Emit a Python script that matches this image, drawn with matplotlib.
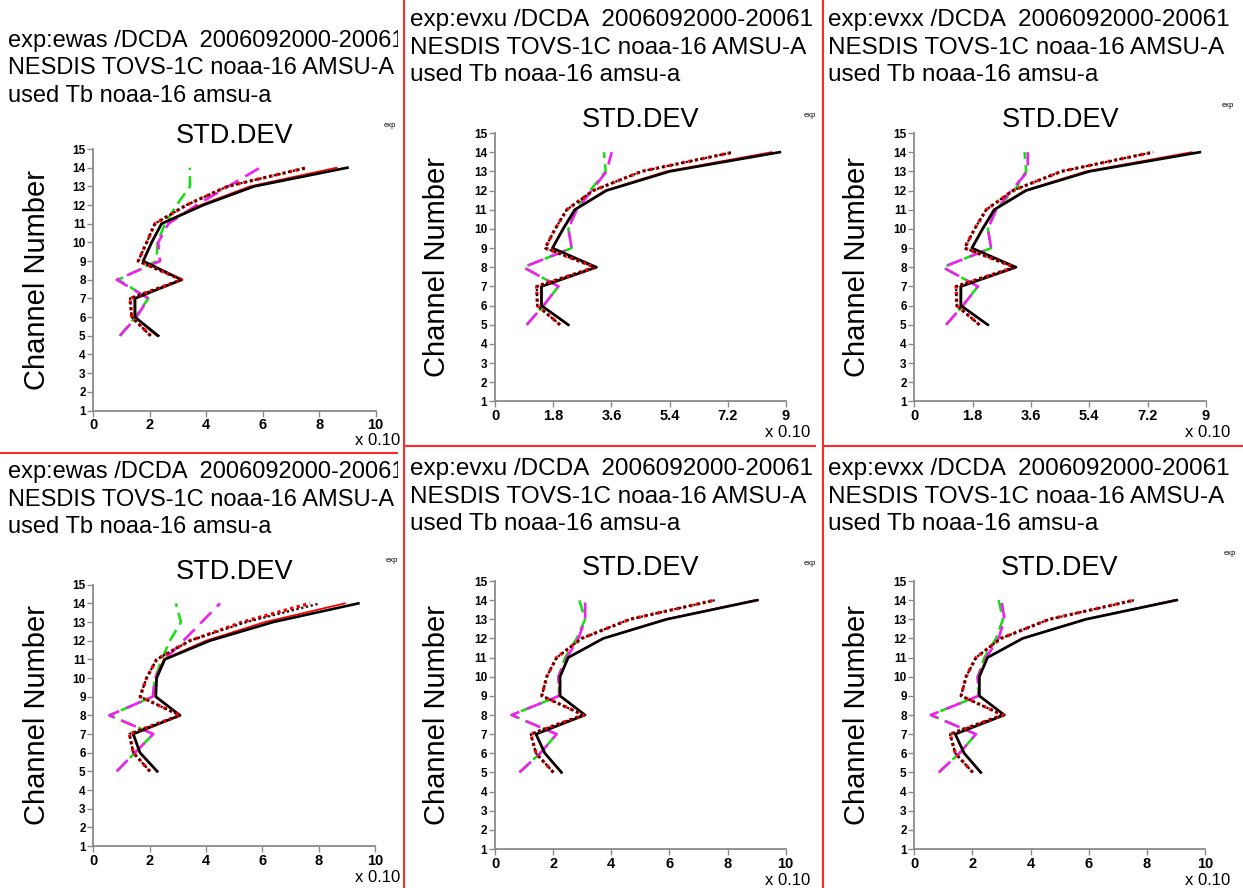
"""Six-panel STD.DEV montage: AMSU-A noaa-16 departure standard deviation
per channel for three experiments (ewas / evxu / evxx), two rows.
Each panel is drawn in pixel coordinates of the final 1243x888 image.
"""
import matplotlib

matplotlib.use("Agg")
import matplotlib.pyplot as plt

W, H, DPI = 1243, 888, 100
FONT = "Liberation Sans"
plt.rcParams["font.family"] = [FONT, "DejaVu Sans"]

channels = [5, 6, 7, 8, 9, 10, 11, 12, 13, 14]

# top row
ewas_top_black = [2.30, 1.48, 1.48, 3.13, 1.77, 2.07, 2.42, 3.90, 5.70, 9.00]
ewas_top_red = [2.25, 1.45, 1.45, 3.10, 1.75, 2.05, 2.40, 3.80, 5.55, 8.62]
ewas_top_dot = [2.03, 1.36, 1.30, 3.13, 1.59, 1.89, 2.18, 3.30, 4.75, 7.56]
ewas_top_green = [0.94, 1.48, 1.95, 0.89, 2.24, 2.27, 2.54, 2.95, 3.42, 3.42]
ewas_top_magenta = [0.94, 1.53, 1.95, 0.83, 2.36, 2.30, 2.66, 3.66, 4.78, 5.90]

evxu_top_black = [2.27, 1.44, 1.44, 3.14, 1.78, 2.11, 2.47, 3.45, 5.41, 8.81]
evxu_top_red = [2.25, 1.42, 1.42, 3.12, 1.76, 2.09, 2.45, 3.40, 5.30, 8.56]
evxu_top_dot = [2.01, 1.31, 1.29, 3.09, 1.55, 1.86, 2.22, 3.04, 4.54, 7.37]
evxu_top_green = [0.98, 1.50, 1.96, 0.88, 2.37, 2.27, 2.47, 2.94, 3.42, 3.37]
evxu_top_magenta = [0.98, 1.50, 1.96, 0.88, 2.37, 2.27, 2.53, 2.99, 3.45, 3.61]

evxx_top_black = [2.27, 1.44, 1.44, 3.14, 1.78, 2.11, 2.47, 3.45, 5.41, 8.81]
evxx_top_red = [2.25, 1.42, 1.42, 3.12, 1.76, 2.09, 2.45, 3.40, 5.30, 8.56]
evxx_top_dot = [2.01, 1.31, 1.29, 3.09, 1.55, 1.86, 2.22, 3.04, 4.54, 7.37]
evxx_top_green = [0.98, 1.50, 1.96, 0.88, 2.37, 2.27, 2.50, 3.09, 3.45, 3.40]
evxx_top_magenta = [0.98, 1.50, 1.96, 0.88, 2.37, 2.27, 2.53, 2.99, 3.50, 3.50]

# bottom row
ewas_bot_black = [2.27, 1.66, 1.42, 3.08, 2.22, 2.25, 2.54, 4.14, 6.39, 9.41]
ewas_bot_red = [2.25, 1.64, 1.40, 3.06, 2.20, 2.23, 2.50, 4.00, 6.10, 8.93]
ewas_bot_dot = [2.01, 1.42, 1.28, 3.08, 1.66, 1.89, 2.25, 3.43, 5.44, 8.05]
ewas_bot_dot_red = [2.01, 1.42, 1.28, 3.08, 1.66, 1.89, 2.25, 3.43, 5.30, 7.69]
ewas_bot_green = [0.83, 1.48, 2.13, 0.57, 2.11, 2.19, 2.43, 2.72, 3.11, 2.93]
ewas_bot_magenta = [0.83, 1.48, 2.13, 0.57, 2.11, 2.19, 2.54, 3.20, 3.85, 4.50]

evxu_bot_black = [2.29, 1.72, 1.41, 3.10, 2.24, 2.24, 2.52, 3.73, 5.91, 9.03]
evxu_bot_red = [2.27, 1.70, 1.40, 3.08, 2.22, 2.22, 2.50, 3.70, 5.85, 8.94]
evxu_bot_dot = [2.01, 1.41, 1.23, 3.04, 1.61, 1.78, 2.12, 2.98, 4.64, 7.57]
evxu_bot_green = [0.84, 1.55, 2.12, 0.57, 2.21, 2.18, 2.41, 2.81, 3.10, 2.90]
evxu_bot_magenta = [0.84, 1.55, 2.12, 0.57, 2.21, 2.18, 2.47, 2.87, 3.10, 3.10]

evxx_bot_black = [2.29, 1.72, 1.41, 3.10, 2.24, 2.24, 2.52, 3.73, 5.91, 9.03]
evxx_bot_red = [2.27, 1.70, 1.40, 3.08, 2.22, 2.22, 2.50, 3.70, 5.85, 8.94]
evxx_bot_dot = [2.01, 1.41, 1.23, 3.04, 1.61, 1.78, 2.12, 2.98, 4.64, 7.57]
evxx_bot_green = [0.84, 1.55, 2.12, 0.57, 2.21, 2.18, 2.41, 2.81, 3.05, 2.90]
evxx_bot_magenta = [0.84, 1.55, 2.12, 0.57, 2.21, 2.18, 2.47, 2.90, 3.10, 3.00]

ticks_10 = [0, 2, 4, 6, 8, 10]
ticks_9 = [0, 1.8, 3.6, 5.4, 7.2, 9]
ticklabels_10 = ["0", "2", "4", "6", "8", "10"]
ticklabels_9 = ["0", "1.8", "3.6", "5.4", "7.2", "9"]

# header lines as far as they show before the panel edge
head_ewas = "exp:ewas /DCDA  2006092000-20061"
head_evxu = "exp:evxu /DCDA  2006092000-20061"
head_evxx = "exp:evxx /DCDA  2006092000-20061"
header_line2 = "NESDIS TOVS-1C noaa-16 AMSU-A"
header_line3 = "used Tb noaa-16 amsu-a"

SPINE = "#8a8a8a"
GREEN = "#10e010"
MAGENTA = "#f020f0"
LINE_STEP = 27.5


def px_rect(x0, y0, x1, y1):
    return [x0 / W, 1 - y1 / H, (x1 - x0) / W, (y1 - y0) / H]


def draw_panel(fig, p):
    # background panel in image pixel coords, holds the free-standing texts
    bx0, by0, bx1, by1 = p["box"]
    pax = fig.add_axes(px_rect(*p["box"]))
    pax.set_xlim(bx0, bx1)
    pax.set_ylim(by1, by0)
    pax.axis("off")

    hx, hy = p["head"]
    for i, line in enumerate([p["exp"], header_line2, header_line3]):
        pax.text(hx, hy + i * LINE_STEP, line, fontsize=p["head_size"], va="baseline", ha="left",
                 clip_on=True)
    pax.text(*p["tag"], "exp", fontsize=5.5, va="baseline", ha="left")
    pax.text(*p["scale"], "x 0.10", fontsize=12, va="baseline", ha="left")

    ax0, ay0, ax1, ay1 = p["axes"]
    pax.text(p["ylabel_x"], (ay0 + ay1) / 2, "Channel Number", fontsize=21, rotation=90,
             ha="center", va="center")

    ax = fig.add_axes(px_rect(*p["axes"]), facecolor="none")
    s = p["series"]
    ax.plot(s["green"], channels, color=GREEN, lw=1.8, ls=(0, (5, 2.5)))
    ax.plot(s["magenta"], channels, color=MAGENTA, lw=1.9, ls=(0, (6, 3)))
    ax.plot(s["red"], channels, color="red", lw=1.3)
    ax.plot(s["black"], channels, color="black", lw=1.9)
    ax.plot(s.get("dot_red", s["dot"]), channels, color="red", lw=2.4, ls=(0, (1, 1)))
    ax.plot(s["dot"], channels, color="#200000", lw=1.6, ls=(0, (1, 1.2)))

    ax.set_xlim(0, p["xmax"])
    ax.set_ylim(1, 15)
    ax.set_xticks(p["xticks"])
    ax.set_xticklabels(p["xticklabels"])
    ax.set_yticks(range(1, 16))
    for side in ("top", "right"):
        ax.spines[side].set_visible(False)
    for side in ("left", "bottom"):
        ax.spines[side].set_color(SPINE)
        ax.spines[side].set_linewidth(1.3)
    ax.tick_params(direction="out", length=4, width=1, color=SPINE)
    ax.tick_params(axis="y", labelsize=8.5, pad=1.5)
    ax.tick_params(axis="x", labelsize=10.5, pad=1.5)
    for lab in ax.get_xticklabels() + ax.get_yticklabels():
        lab.set_fontweight("bold")
    ax.set_title("STD.DEV", fontsize=19.5, pad=4)


panels = [
    dict(box=(0, 0, 398, 453), axes=(93.3, 149, 375.7, 410.5), head=(8, 47), head_size=17,
         tag=(384, 127), scale=(355, 445), ylabel_x=37, exp=head_ewas,
         xmax=10, xticks=ticks_10, xticklabels=ticklabels_10,
         series=dict(black=ewas_top_black, red=ewas_top_red, dot=ewas_top_dot,
                     green=ewas_top_green, magenta=ewas_top_magenta)),
    dict(box=(404, 0, 816, 446), axes=(495, 133, 786, 401.5), head=(410, 26), head_size=17.5,
         tag=(804, 117), scale=(765, 437), ylabel_x=437, exp=head_evxu,
         xmax=9, xticks=ticks_9, xticklabels=ticklabels_9,
         series=dict(black=evxu_top_black, red=evxu_top_red, dot=evxu_top_dot,
                     green=evxu_top_green, magenta=evxu_top_magenta)),
    dict(box=(823, 0, 1243, 446), axes=(914.3, 133, 1206, 401.5), head=(828, 26), head_size=17.5,
         tag=(1222, 107), scale=(1185, 437), ylabel_x=857, exp=head_evxx,
         xmax=9, xticks=ticks_9, xticklabels=ticklabels_9,
         series=dict(black=evxx_top_black, red=evxx_top_red, dot=evxx_top_dot,
                     green=evxx_top_green, magenta=evxx_top_magenta)),
    dict(box=(0, 453, 398, 888), axes=(93.3, 584.7, 375, 846), head=(8, 478), head_size=17,
         tag=(386, 562), scale=(355, 882), ylabel_x=37, exp=head_ewas,
         xmax=10, xticks=ticks_10, xticklabels=ticklabels_10,
         series=dict(black=ewas_bot_black, red=ewas_bot_red, dot=ewas_bot_dot,
                     dot_red=ewas_bot_dot_red, green=ewas_bot_green, magenta=ewas_bot_magenta)),
    dict(box=(404, 446, 816, 888), axes=(495, 581, 785.7, 849), head=(410, 475), head_size=17.5,
         tag=(804, 565), scale=(765, 885), ylabel_x=437, exp=head_evxu,
         xmax=10, xticks=ticks_10, xticklabels=ticklabels_10,
         series=dict(black=evxu_bot_black, red=evxu_bot_red, dot=evxu_bot_dot,
                     green=evxu_bot_green, magenta=evxu_bot_magenta)),
    dict(box=(823, 446, 1243, 888), axes=(914.3, 581, 1205, 849), head=(828, 475), head_size=17.5,
         tag=(1224, 555), scale=(1185, 885), ylabel_x=857, exp=head_evxx,
         xmax=10, xticks=ticks_10, xticklabels=ticklabels_10,
         series=dict(black=evxx_bot_black, red=evxx_bot_red, dot=evxx_bot_dot,
                     green=evxx_bot_green, magenta=evxx_bot_magenta)),
]

fig = plt.figure(figsize=(W / DPI, H / DPI), dpi=DPI)
for p in panels:
    draw_panel(fig, p)

# red separators between the six panels
cax = fig.add_axes([0, 0, 1, 1])
cax.set_xlim(0, W)
cax.set_ylim(H, 0)
cax.axis("off")
sep = dict(color="#ff2a2a", lw=1.5, solid_capstyle="butt")
cax.plot([404, 404], [0, H], **sep)
cax.plot([823, 823], [0, H], **sep)
cax.plot([0, 398], [453, 453], **sep)
cax.plot([404, 816], [446, 446], **sep)
cax.plot([823, W], [446, 446], **sep)

fig.savefig("out.png", dpi=DPI)
plt.close(fig)
